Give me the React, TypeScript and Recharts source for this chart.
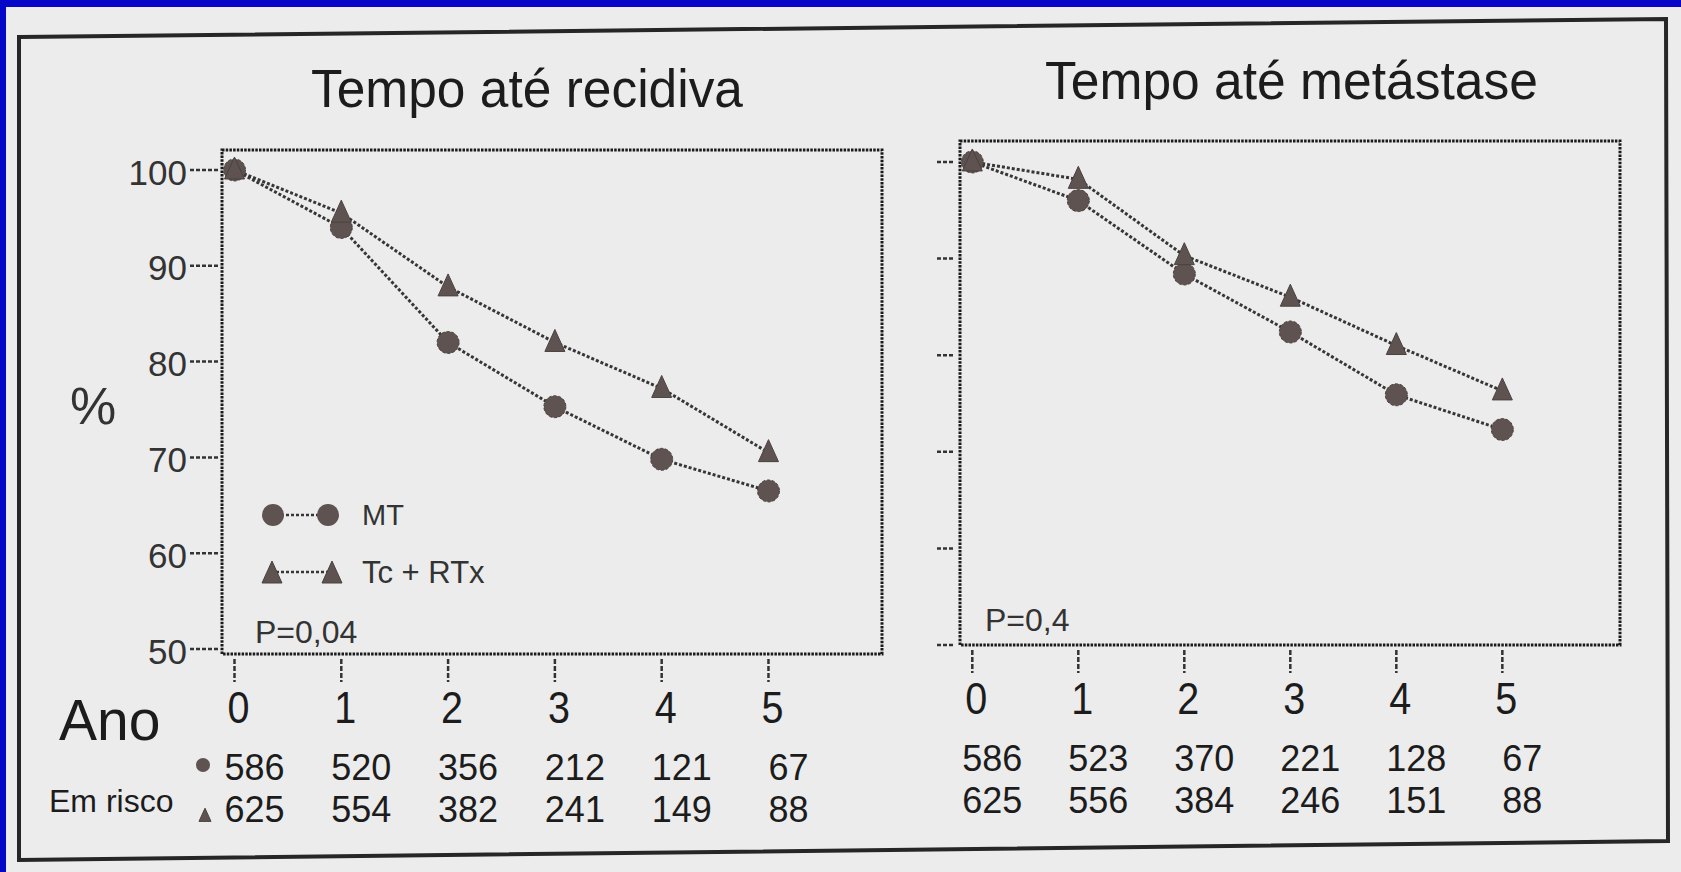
import React from "react";
import { LineChart, Line, XAxis, YAxis, ReferenceArea, Legend } from "recharts";

const years = [0, 1, 2, 3, 4, 5];
const seriesNames = ["MT", "Tc + RTx"];
const yTicks = [50, 60, 70, 80, 90, 100];

// Tempo até recidiva (%)
const recidivaMT = [100, 94, 82, 75.3, 69.8, 66.5];
const recidivaTc = [100, 95.5, 87.8, 82, 77.2, 70.5];
const recidivaRiskMT = [586, 520, 356, 212, 121, 67];
const recidivaRiskTc = [625, 554, 382, 241, 149, 88];

// Tempo até metástase (%)
const metastaseMT = [100, 96, 88.4, 82.4, 75.9, 72.3];
const metastaseTc = [100, 98.2, 90.3, 86, 81, 76.3];
const metastaseRiskMT = [586, 523, 370, 221, 128, 67];
const metastaseRiskTc = [625, 556, 384, 246, 151, 88];

const FONT = '"Liberation Sans", Arial, sans-serif';
const INK = "#1c1c1c";
const MARK = "#5e5350";
const LINE = "#363636";

const toRows = (mt: number[], tc: number[]) =>
  years.map((t, i) => ({ t, mt: mt[i], tc: tc[i] }));

function Triangle({ cx, cy, s = 1 }: any) {
  if (cx == null || cy == null) return null;
  return (
    <path
      d={`M${cx},${cy - 13 * s} L${cx + 10 * s},${cy + 9 * s} L${cx - 10 * s},${cy + 9 * s} Z`}
      fill={MARK}
      stroke="#4a4240"
      strokeWidth={1}
    />
  );
}

function YTick({ x, y, payload, showLabel, from, to }: any) {
  return (
    <g>
      <line x1={x + from} x2={x + to} y1={y} y2={y} stroke="#333" strokeWidth={2.5} strokeDasharray="4 2" />
      {showLabel && (
        <text x={x - 35} y={y + 2} textAnchor="end" dominantBaseline="central" fontSize={35} fill="#333" fontFamily={FONT}>
          {payload.value}
        </text>
      )}
    </g>
  );
}

function RiskTick({ x, y, payload, index, riskMT, riskTc }: any) {
  return (
    <g fontFamily={FONT} fill={INK}>
      <line x1={x} x2={x} y1={y + 5} y2={y + 28} stroke="#333" strokeWidth={2.5} strokeDasharray="5 2" />
      <text
        x={x + 4}
        y={y + 53}
        textAnchor="middle"
        dominantBaseline="central"
        fontSize={44}
        textLength={22}
        lengthAdjust="spacingAndGlyphs"
      >
        {payload.value}
      </text>
      <text x={x + 20} y={y + 113} textAnchor="middle" dominantBaseline="central" fontSize={36}>
        {riskMT[index]}
      </text>
      <text x={x + 20} y={y + 155} textAnchor="middle" dominantBaseline="central" fontSize={36}>
        {riskTc[index]}
      </text>
    </g>
  );
}

function LegendBox({ payload }: any) {
  const items = payload ?? [];
  return (
    <svg width={280} height={110} style={{ overflow: "visible" }}>
      {items.map((it: any, i: number) => {
        const cy = 25 + i * 57;
        return (
          <g key={it.value}>
            <line x1={26} x2={78} y1={cy} y2={cy} stroke={LINE} strokeWidth={2.5} strokeDasharray="3 2" />
            {i === 0 ? (
              <>
                <circle cx={23} cy={cy} r={11} fill={MARK} />
                <circle cx={78} cy={cy} r={11} fill={MARK} />
              </>
            ) : (
              <>
                <Triangle cx={22} cy={cy + 2} />
                <Triangle cx={82} cy={cy + 2} />
              </>
            )}
            <text x={112} y={cy} dominantBaseline="central" fontSize={i === 0 ? 29 : 31} fill="#333" fontFamily={FONT}>
              {it.value}
            </text>
          </g>
        );
      })}
    </svg>
  );
}

function Panel({ left, top, right, bottom, domainX, domainY, mt, tc, riskMT, riskTc, showYLabels, tickFrom, tickTo, legend }: any) {
  const width = 900;
  const height = 860;
  return (
    <div style={{ position: "absolute", left, top: 0 }}>
      <LineChart
        width={width}
        height={height}
        data={toRows(mt, tc)}
        margin={{ top, right: width - right, bottom: 0, left: 0 }}
      >
        <XAxis
          type="number"
          dataKey="t"
          domain={domainX}
          ticks={years}
          interval={0}
          allowDataOverflow
          axisLine={false}
          tickLine={false}
          tickSize={0}
          tickMargin={0}
          height={height - bottom}
          tick={(p: any) => <RiskTick {...p} riskMT={riskMT} riskTc={riskTc} />}
        />
        <YAxis
          type="number"
          domain={domainY}
          ticks={yTicks}
          interval={0}
          allowDataOverflow
          axisLine={false}
          tickLine={false}
          tickSize={0}
          tickMargin={0}
          width={left === 0 ? 222 : 220}
          tick={(p: any) => <YTick {...p} showLabel={showYLabels} from={tickFrom} to={tickTo} />}
        />
        <ReferenceArea
          x1={domainX[0]}
          x2={domainX[1]}
          y1={domainY[0]}
          y2={domainY[1]}
          ifOverflow="visible"
          fill="none"
          stroke="#1a1a1a"
          strokeWidth={3}
          strokeDasharray="2.5 1.2"
        />
        <Line
          name={seriesNames[0]}
          dataKey="mt"
          type="linear"
          stroke={LINE}
          strokeWidth={3}
          strokeDasharray="3 2"
          dot={{ r: 11, fill: MARK, stroke: "#4a4240", strokeWidth: 1 }}
          isAnimationActive={false}
        />
        <Line
          name={seriesNames[1]}
          dataKey="tc"
          type="linear"
          stroke={LINE}
          strokeWidth={3}
          strokeDasharray="3 2"
          dot={(p: any) => <Triangle key={p.index} cx={p.cx} cy={p.cy} />}
          isAnimationActive={false}
        />
        {legend && (
          <Legend
            verticalAlign="middle"
            align="center"
            layout="horizontal"
            wrapperStyle={{ position: "absolute", left: 250, top: 490, width: 280, height: 110 }}
            content={(props: any) => <LegendBox payload={props.payload} />}
          />
        )}
      </LineChart>
    </div>
  );
}

export default function App() {
  return (
    <div
      style={{
        position: "absolute",
        left: 0,
        top: 0,
        width: 1681,
        height: 872,
        background: "#0606c8",
        overflow: "hidden",
        fontFamily: FONT,
      }}
    >
      <div style={{ position: "absolute", left: 6, top: 7, right: 0, bottom: 0, background: "#ececec" }} />
      <Panel
        left={0}
        top={150}
        right={882}
        bottom={654}
        domainX={[-0.117, 6.063]}
        domainY={[49.48, 102.09]}
        mt={recidivaMT}
        tc={recidivaTc}
        riskMT={recidivaRiskMT}
        riskTc={recidivaRiskTc}
        showYLabels
        tickFrom={-32}
        tickTo={-2}
        legend
      />
      <Panel
        left={740}
        top={141}
        right={880}
        bottom={645}
        domainX={[-0.116, 6.11]}
        domainY={[50, 102.17]}
        mt={metastaseMT}
        tc={metastaseTc}
        riskMT={metastaseRiskMT}
        riskTc={metastaseRiskTc}
        showYLabels={false}
        tickFrom={-23}
        tickTo={-5}
      />
      <svg
        width={1681}
        height={872}
        style={{ position: "absolute", left: 0, top: 0, pointerEvents: "none" }}
        fontFamily={FONT}
      >
        <polygon points="19,37 1666,19 1668,841 19,860" fill="none" stroke="#262626" strokeWidth={4} />
        <text x={311} y={107} fontSize={53} fill={INK} textLength={432} lengthAdjust="spacingAndGlyphs">
          Tempo até recidiva
        </text>
        <text x={1045} y={99} fontSize={53} fill={INK} textLength={493} lengthAdjust="spacingAndGlyphs">
          Tempo até metástase
        </text>
        <text x={93} y={406} textAnchor="middle" dominantBaseline="central" fontSize={52} fill="#333">
          %
        </text>
        <text x={59} y={740} fontSize={57} fill={INK}>
          Ano
        </text>
        <text x={49} y={812} fontSize={32} fill={INK}>
          Em risco
        </text>
        <circle cx={203} cy={765} r={7} fill={MARK} />
        <Triangle cx={205} cy={816} s={0.6} />
        <text x={255} y={643} fontSize={32} fill="#333">
          P=0,04
        </text>
        <text x={985} y={631} fontSize={32} fill="#333">
          P=0,4
        </text>
      </svg>
    </div>
  );
}
